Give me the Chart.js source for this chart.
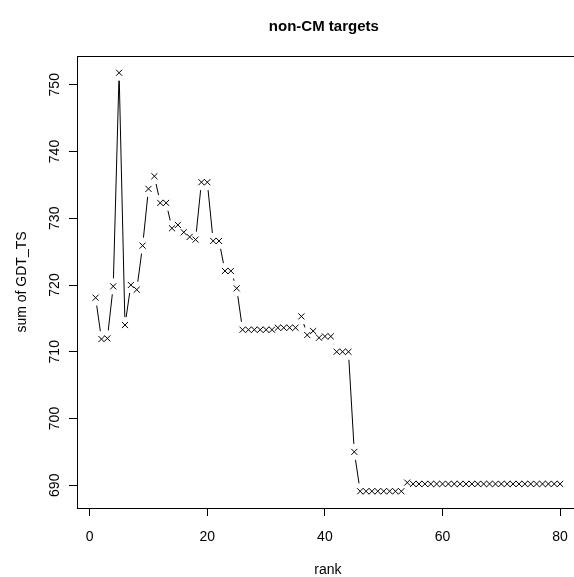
<!DOCTYPE html>
<html>
<head>
<meta charset="utf-8">
<script src="https://cdn.jsdelivr.net/npm/chart.js@4"></script>
<style>
  html, body { margin: 0; padding: 0; background: #fff; overflow: hidden; }
  /* the R plot region runs a little past the right edge of the window */
  #wrap { width: 584px; height: 577px; }
</style>
</head>
<body>
<div id="wrap"><canvas id="gdtChart" width="584" height="577"></canvas></div>
<script>
const chartTitle = "non-CM targets";
const xLabel = "rank";
const yLabel = "sum of GDT_TS";

const ranks = [
  1, 2, 3, 4, 5, 6, 7, 8, 9, 10,
  11, 12, 13, 14, 15, 16, 17, 18, 19, 20,
  21, 22, 23, 24, 25, 26, 27, 28, 29, 30,
  31, 32, 33, 34, 35, 36, 37, 38, 39, 40,
  41, 42, 43, 44, 45, 46, 47, 48, 49, 50,
  51, 52, 53, 54, 55, 56, 57, 58, 59, 60,
  61, 62, 63, 64, 65, 66, 67, 68, 69, 70,
  71, 72, 73, 74, 75, 76, 77, 78, 79, 80
];

const gdtSums = [
  718.1, 711.9, 712.0, 719.8, 751.8, 714.0, 720.0, 719.3, 725.9, 734.4,
  736.3, 732.3, 732.3, 728.5, 729.0, 727.9, 727.2, 726.8, 735.4, 735.4,
  726.6, 726.6, 722.1, 722.1, 719.5, 713.3, 713.3, 713.3, 713.3, 713.3,
  713.3, 713.6, 713.6, 713.6, 713.6, 715.3, 712.5, 713.1, 712.1, 712.3,
  712.3, 710.0, 710.0, 710.0, 695.0, 689.1, 689.1, 689.1, 689.1, 689.1,
  689.1, 689.1, 689.1, 690.4, 690.2, 690.2, 690.2, 690.2, 690.2, 690.2,
  690.2, 690.2, 690.2, 690.2, 690.2, 690.2, 690.2, 690.2, 690.2, 690.2,
  690.2, 690.2, 690.2, 690.2, 690.2, 690.2, 690.2, 690.2, 690.2, 690.2
];

const xTicks = [0, 20, 40, 60, 80];
const yTicks = [690, 700, 710, 720, 730, 740, 750];

const FONT = "'Liberation Sans', Arial, sans-serif";

// R style axis range: data range plus 4% each side
function paddedRange(values) {
  let lo = Math.min(...values), hi = Math.max(...values);
  let pad = (hi - lo) * 0.04;
  return [lo - pad, hi + pad];
}
const xRange = paddedRange(ranks);
const yRange = paddedRange(gdtSums);

// type="b": line pieces with a gap round every point
const gappedLines = {
  id: "gappedLines",
  afterDatasetsDraw(chart) {
    const ctx = chart.ctx;
    const pts = chart.getDatasetMeta(0).data;
    const gap = 8;
    ctx.save();
    ctx.strokeStyle = "#000";
    ctx.lineWidth = 1;
    ctx.beginPath();
    for (let i = 1; i < pts.length; i++) {
      let a = pts[i - 1], b = pts[i];
      let dx = b.x - a.x, dy = b.y - a.y;
      let d = Math.sqrt(dx * dx + dy * dy);
      if (d <= gap * 2) continue;
      let ux = dx / d, uy = dy / d;
      ctx.moveTo(a.x + ux * gap, a.y + uy * gap);
      ctx.lineTo(b.x - ux * gap, b.y - uy * gap);
    }
    ctx.stroke();
    ctx.restore();
  }
};

// box, tick labels and titles placed like R's base graphics
const rFrame = {
  id: "rFrame",
  afterDraw(chart) {
    const ctx = chart.ctx;
    const area = chart.chartArea;
    const xs = chart.scales.x, ys = chart.scales.y;
    ctx.save();
    ctx.strokeStyle = "#000";
    ctx.lineWidth = 1;
    ctx.strokeRect(Math.round(area.left) + 0.5, Math.round(area.top) + 0.5,
      Math.round(area.right - area.left), Math.round(area.bottom - area.top));

    ctx.fillStyle = "#000";
    ctx.textBaseline = "middle";
    ctx.textAlign = "center";
    ctx.font = "14px " + FONT;
    xTicks.forEach(v => ctx.fillText(String(v), xs.getPixelForValue(v), area.bottom + 29));
    ctx.fillText(xLabel, (area.left + area.right) / 2, area.bottom + 62);

    yTicks.forEach(v => {
      ctx.save();
      ctx.translate(area.left - 22, ys.getPixelForValue(v));
      ctx.rotate(-Math.PI / 2);
      ctx.fillText(String(v), 0, 0);
      ctx.restore();
    });
    ctx.save();
    ctx.translate(area.left - 55, (area.top + area.bottom) / 2);
    ctx.rotate(-Math.PI / 2);
    ctx.fillText(yLabel, 0, 0);
    ctx.restore();

    ctx.font = "bold 15px " + FONT;
    ctx.fillText(chartTitle, (area.left + area.right) / 2 - 4, 27);
    ctx.restore();
  }
};

const ctx = document.getElementById("gdtChart").getContext("2d");

new Chart(ctx, {
  type: "scatter",
  data: {
    datasets: [{
      label: yLabel,
      data: ranks.map((r, i) => ({ x: r, y: gdtSums[i] })),
      showLine: false,
      pointStyle: "crossRot",
      pointRadius: 4.3,
      pointBorderColor: "#000",
      pointBackgroundColor: "#000",
      pointBorderWidth: 1,
      pointHoverRadius: 4.3
    }]
  },
  options: {
    responsive: false,
    animation: false,
    devicePixelRatio: 1,
    layout: { padding: { top: 56, left: 0, right: 0, bottom: 0 } },
    plugins: {
      legend: { display: false },
      tooltip: { enabled: false },
      title: { display: false }
    },
    scales: {
      x: {
        type: "linear",
        min: xRange[0],
        max: xRange[1],
        afterBuildTicks: s => { s.ticks = xTicks.map(v => ({ value: v })); },
        afterFit: s => { s.height = 69; },
        ticks: { display: false },
        grid: { drawOnChartArea: false, drawTicks: true, tickLength: 8, color: "#000", lineWidth: 1 },
        border: { display: false }
      },
      y: {
        type: "linear",
        min: yRange[0],
        max: yRange[1],
        afterBuildTicks: s => { s.ticks = yTicks.map(v => ({ value: v })); },
        afterFit: s => { s.width = 77; },
        ticks: { display: false },
        grid: { drawOnChartArea: false, drawTicks: true, tickLength: 8, color: "#000", lineWidth: 1 },
        border: { display: false }
      }
    }
  },
  plugins: [gappedLines, rFrame]
});
</script>
</body>
</html>
